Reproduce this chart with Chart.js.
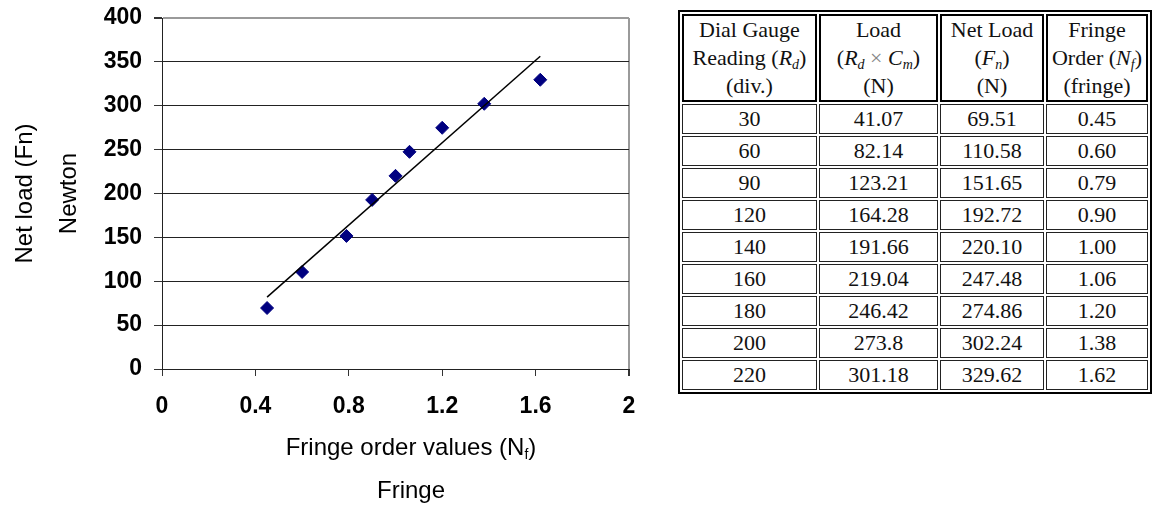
<!DOCTYPE html>
<html>
<head>
<meta charset="utf-8">
<script src="https://cdn.jsdelivr.net/npm/chart.js@4/dist/chart.umd.min.js"></script>
<style>
  html, body { margin: 0; padding: 0; background: #fff; }
  body { width: 1152px; height: 508px; overflow: hidden; position: relative; }
  #chart-box { position: absolute; left: 0; top: 0; width: 660px; height: 508px; }
  .x-title {
    position: absolute; left: 411px; transform: translateX(-50%);
    font-family: "Liberation Sans", Arial, sans-serif; font-size: 24px;
    line-height: 28px; white-space: nowrap; color: #000;
  }
  .x-title sub { font-size: 14px; vertical-align: -4px; line-height: 0; }
  #data-table {
    position: absolute; left: 678px; top: 10px;
    border: 2px solid #000; border-spacing: 2px; table-layout: fixed;
    font-family: "Liberation Serif", "Times New Roman", serif; font-size: 22px;
    color: #111; background: #fff;
  }
  #data-table td { padding: 0; text-align: center; white-space: nowrap; }
  #data-table thead td { border: 2px solid #000; line-height: 28px; }
  #data-table tbody td { border: 1px solid #222; height: 28px; line-height: 28px; }
  #data-table sub { font-size: 14px; vertical-align: -4px; line-height: 0; }
  .gray { color: #888; }
</style>
</head>
<body>
<div id="chart-box"><canvas id="fringe-chart" width="660" height="508"></canvas></div>
<div class="x-title" style="top:433px">Fringe order values (N<sub>f</sub>)</div>
<div class="x-title" style="top:476px">Fringe</div>

<table id="data-table">
  <colgroup>
    <col style="width:137px"><col style="width:123px"><col style="width:106px"><col style="width:103px">
  </colgroup>
  <thead>
    <tr>
      <td>Dial Gauge<br>Reading (<i>R<sub>d</sub></i>)<br>(div.)</td>
      <td>Load<br>(<i>R<sub>d</sub></i> <span class="gray">×</span> <i>C<sub>m</sub></i>)<br>(N)</td>
      <td>Net Load<br>(<i>F<sub>n</sub></i>)<br>(N)</td>
      <td>Fringe<br>Order (<i>N<sub>f</sub></i>)<br>(fringe)</td>
    </tr>
  </thead>
  <tbody id="table-body"></tbody>
</table>

<script>
const dialReading = [30, 60, 90, 120, 140, 160, 180, 200, 220];
const loadText = ['41.07', '82.14', '123.21', '164.28', '191.66', '219.04', '246.42', '273.8', '301.18'];
const netLoad = [69.51, 110.58, 151.65, 192.72, 220.10, 247.48, 274.86, 302.24, 329.62];
const fringeOrder = [0.45, 0.60, 0.79, 0.90, 1.00, 1.06, 1.20, 1.38, 1.62];

const xTicks = [0, 0.4, 0.8, 1.2, 1.6, 2];
const yTicks = [0, 50, 100, 150, 200, 250, 300, 350, 400];

// tabla
const tableBody = document.getElementById('table-body');
for (let i = 0; i < dialReading.length; i++) {
    const row = document.createElement('tr');
    const cells = [String(dialReading[i]), loadText[i], netLoad[i].toFixed(2), fringeOrder[i].toFixed(2)];
    cells.forEach(text => {
        const cell = document.createElement('td');
        cell.textContent = text;
        row.appendChild(cell);
    });
    tableBody.appendChild(row);
}

// linea de tendencia (minimos cuadrados)
function linearFit(xs, ys) {
    const n = xs.length;
    const mx = xs.reduce((a, b) => a + b, 0) / n;
    const my = ys.reduce((a, b) => a + b, 0) / n;
    let sxy = 0, sxx = 0;
    for (let i = 0; i < n; i++) {
        sxy += (xs[i] - mx) * (ys[i] - my);
        sxx += (xs[i] - mx) * (xs[i] - mx);
    }
    const slope = sxy / sxx;
    return { slope: slope, intercept: my - slope * mx };
}

const fit = linearFit(fringeOrder, netLoad);
const xStart = Math.min(...fringeOrder);
const xEnd = Math.max(...fringeOrder);
const trendData = [
    { x: xStart, y: fit.intercept + fit.slope * xStart },
    { x: xEnd, y: fit.intercept + fit.slope * xEnd }
];
const points = fringeOrder.map((x, i) => ({ x: x, y: netLoad[i] }));

const tickFont = { family: '"Liberation Sans", Arial, sans-serif', size: 23, weight: 'bold' };

const canvas = document.getElementById('fringe-chart');
const fringeChart = new Chart(canvas, {
    type: 'scatter',
    data: {
        datasets: [
            {
                type: 'line',
                label: 'Trend',
                data: trendData,
                borderColor: '#000',
                borderWidth: 1.5,
                pointRadius: 0,
                fill: false,
                order: 0
            },
            {
                label: 'Net load',
                data: points,
                pointStyle: 'rectRot',
                pointRadius: 6.5,
                backgroundColor: '#000080',
                borderColor: '#000080',
                borderWidth: 1,
                order: 1
            }
        ]
    },
    options: {
        responsive: false,
        animation: false,
        layout: { padding: { top: 18, right: 31, left: 0, bottom: 0 } },
        plugins: {
            legend: { display: false },
            tooltip: { enabled: false }
        },
        scales: {
            x: {
                type: 'linear',
                min: 0,
                max: 2,
                afterBuildTicks: scale => { scale.ticks = xTicks.map(v => ({ value: v })); },
                afterFit: scale => {
                    scale.height = 139;
                    scale.paddingLeft = 0;
                    scale.paddingRight = 0;
                },
                grid: {
                    color: ctx => (ctx.tick && ctx.tick.value === 2) ? '#9a9a9a' : 'rgba(0,0,0,0)',
                    lineWidth: ctx => (ctx.tick && ctx.tick.value === 2) ? 2 : 1,
                    tickColor: '#333',
                    tickLength: 7
                },
                border: { color: '#222', width: 1 },
                ticks: {
                    color: '#000',
                    font: tickFont,
                    padding: 17,
                    maxRotation: 0,
                    callback: v => String(Math.round(v * 10) / 10)
                }
            },
            y: {
                type: 'linear',
                min: 0,
                max: 400,
                afterBuildTicks: scale => { scale.ticks = yTicks.map(v => ({ value: v })); },
                afterFit: scale => {
                    scale.width = 162;
                    scale.paddingTop = 0;
                    scale.paddingBottom = 0;
                },
                grid: {
                    color: ctx => (ctx.tick && ctx.tick.value === 400) ? '#9a9a9a' : '#222',
                    lineWidth: ctx => (ctx.tick && ctx.tick.value === 400) ? 2 : 1,
                    tickColor: '#333',
                    tickLength: 8
                },
                border: { color: '#222', width: 1 },
                ticks: {
                    color: '#000',
                    font: tickFont,
                    padding: 12
                },
                title: {
                    display: true,
                    text: ['Net load (Fn)', 'Newton'],
                    color: '#000',
                    font: { family: '"Liberation Sans", Arial, sans-serif', size: 24, lineHeight: '44px' },
                    padding: { top: 3, bottom: 0 }
                }
            }
        }
    }
});
</script>
</body>
</html>
